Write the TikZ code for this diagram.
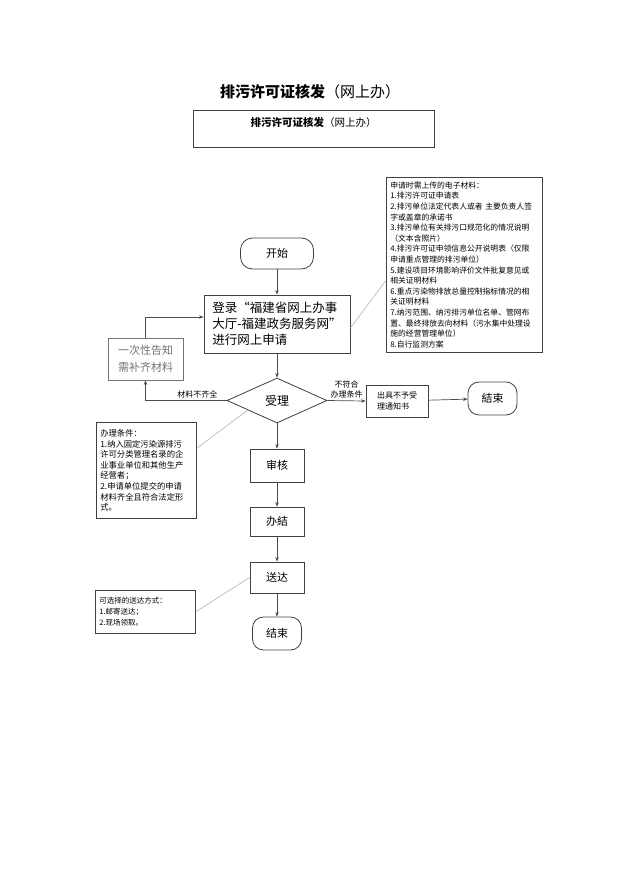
\documentclass[tikz,border=0pt]{standalone}
\usepackage{fontspec}
\setmainfont{Noto Sans CJK SC}
\usetikzlibrary{shapes.geometric,arrows.meta}
\tikzset{
  caja/.style={draw=black!75,line width=0.8pt,inner sep=2pt},
  pildora/.style={caja,rounded corners=11pt,minimum width=49pt,minimum height=33pt,font=\fontsize{11}{13}\selectfont},
  paso/.style={caja,minimum width=54pt,minimum height=31pt,font=\fontsize{11}{13}\selectfont},
  nota/.style={draw=black!75,line width=0.7pt,align=left,anchor=north west,inner sep=4pt},
  etiqueta/.style={font=\fontsize{8}{10}\selectfont,align=center,inner sep=2pt},
  flecha/.style={draw=black!70,line width=0.7pt,-{Stealth[length=4.5pt,width=3.5pt]}},
  guia/.style={draw=black!30,line width=0.6pt}
}
\begin{document}
\begin{tikzpicture}[x=1pt,y=-1pt]
    \useasboundingbox (0,0) rectangle (628,888);
    % Titulo
    \node[font=\fontsize{15}{18}\selectfont] (tit) at (310,92) {\textbf{排污许可证核发}（网上办）};
    \node[caja,minimum width=241pt,inner xsep=2pt,inner ysep=4pt,text height=12pt,text depth=17pt,anchor=north,font=\fontsize{10.5}{12}\selectfont] (marco) at (313.5,110) {\textbf{排污许可证核发}（网上办）};
    % Cajas
    \node[pildora,minimum width=73pt,minimum height=31pt,rounded corners=12pt] (ini) at (277,253.5) {开始};
    \node[caja,minimum width=146pt,minimum height=58pt,align=left,font=\fontsize{12.5}{16}\selectfont] (reg) at (277,324) {登录“福建省网上办事\\大厅-福建政务服务网”\\进行网上申请};
    \node[caja,draw=black!55,text=black!55,minimum width=75pt,minimum height=42pt,align=center,font=\fontsize{11}{17}\selectfont] (aviso) at (145.5,359) {一次性告知\\需补齐材料};
    \node[caja,diamond,aspect=2.2,minimum width=100pt,minimum height=45pt,inner sep=0pt,font=\fontsize{12}{14}\selectfont] (rec) at (277,400.5) {受理};
    \node[caja,minimum width=62pt,minimum height=32pt,align=left,font=\fontsize{8}{11}\selectfont] (rech) at (397,401) {出具不予受\\理通知书};
    \node[pildora] (fin1) at (492.5,398.5) {結束};
    \node[paso,minimum height=33pt] (rev) at (277,465.5) {审核};
    \node[paso,minimum height=29pt] (conc) at (277,521.5) {办結};
    \node[paso] (env) at (277,577.5) {送达};
    \node[pildora] (fin2) at (277,633.5) {结束};
    % Notas
    \node[nota,minimum width=156pt,minimum height=175pt,text width=148pt,font=\fontsize{7.8}{10.6}\selectfont] (docs) at (386,177) {申请时需上传的电子材料：\\1.排污许可证申请表\\2.排污单位法定代表人或者 主要负责人签\\字或盖章的承诺书\\3.排污单位有关排污口规范化的情况说明\\（文本含照片）\\4.排污许可证申领信息公开说明表（仅限\\申请重点管理的排污单位）\\5.建设项目环境影响评价文件批复意见或\\相关证明材料\\6.重点污染物排放总量控制指标情况的相\\关证明材料\\7.纳污范围、纳污排污单位名单、管网布\\置、最终排放去向材料（污水集中处理设\\施的经营管理单位）\\8.自行监测方案};
    \node[nota,minimum width=100pt,minimum height=96pt,text width=92pt,font=\fontsize{8.3}{10.6}\selectfont] (cond) at (96,422) {办理条件：\\1.纳入固定污染源排污\\许可分类管理名录的企\\业事业单位和其他生产\\经营者；\\2.申请单位提交的申请\\材料齐全且符合法定形\\式。};
    \node[nota,minimum width=100pt,minimum height=43pt,text width=92pt,font=\fontsize{7.5}{11}\selectfont] (modo) at (95,590) {可选择的送达方式：\\1.邮寄送达；\\2.现场领取。};
    % Flechas
    \draw[flecha] (ini) -- (reg);
    \draw[flecha] (reg) -- (rec);
    \draw[flecha] (rec.west) -| node[etiqueta,pos=0.18,above] {材料不齐全} (aviso.south);
    \draw[flecha] (aviso.north) |- ([yshift=7pt]reg.west);
    \draw[flecha] (rec.east) -- node[etiqueta,above] {不符合\\办理条件} (rech.west);
    \draw[flecha] (rech) -- (fin1);
    \draw[flecha] (rec) -- (rev);
    \draw[flecha] (rev) -- (conc);
    \draw[flecha] (conc) -- (env);
    \draw[flecha] (env) -- (fin2);
    % Lineas de las notas
    \draw[guia] ([yshift=-4pt]reg.east) -- ([yshift=-15.5pt]docs.west);
    \draw[guia] ([yshift=22pt]cond.east) -- (rec.198);
    \draw[guia] (modo.east) -- (env.west);
  \end{tikzpicture}
\end{document}
